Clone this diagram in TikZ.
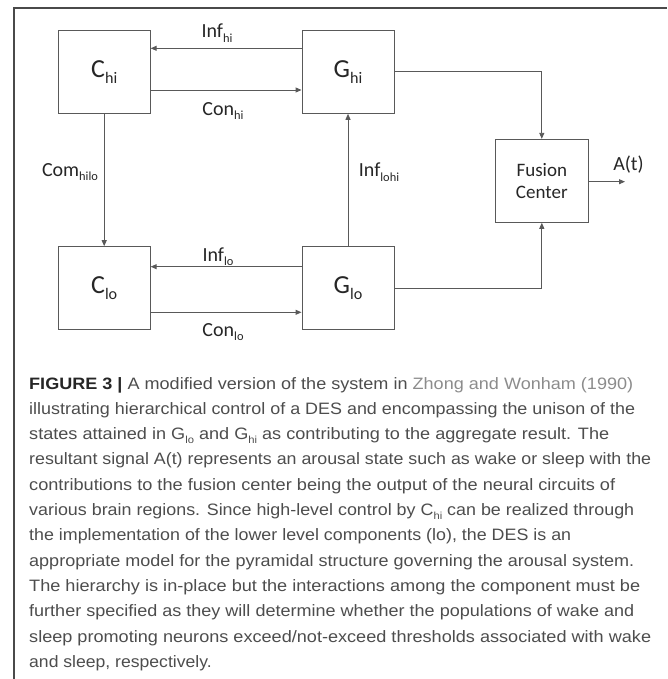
\documentclass[tikz,border=0pt]{standalone}
\usepackage{fontspec}
\setmainfont{Carlito}
\newfontfamily\capfont{Liberation Sans}
\usetikzlibrary{arrows.meta}
\definecolor{linec}{HTML}{595959}
\definecolor{txtc}{HTML}{262626}
\definecolor{capc}{HTML}{4D4D4D}
\definecolor{capb}{HTML}{262626}
\definecolor{citec}{HTML}{8C8C8C}
\definecolor{framec}{HTML}{4A4A4A}
\newcommand\sbs[1]{\raisebox{-0.22em}{\scalebox{0.62}{#1}}}
\newlength\cwd
\newcommand\fitline[2]{\settowidth\cwd{#2}\scalebox{\fpeval{(#1)/\cwd}}[1]{#2}}
\begin{document}
\begin{tikzpicture}[x=1pt,y=-1pt,
  blk/.style={draw=linec, line width=0.9pt, minimum width=92pt, minimum height=82.7pt, inner sep=0pt, font=\fontsize{26}{30}\selectfont, text=txtc},
  arr/.style={draw=linec, line width=0.9pt, -{Triangle[length=6pt,width=5pt]}},
  lbl/.style={font=\fontsize{20}{24}\selectfont, text=txtc, inner sep=0pt},
  capline/.style={anchor=base west, inner sep=0pt, font=\capfont\fontsize{16.5}{20}\selectfont, text=capc}
]
\useasboundingbox (0,0) rectangle (667,679);
\coordinate (fbl) at (14,679);
\coordinate (ftl) at (14,8);
\coordinate (ftr) at (667,8);
\draw[framec, line width=1.2pt] (fbl) -- (ftl) -- (ftr);

\node[blk] (Chi) at (104.2,72) {C\sbs{hi}};
\node[blk] (Ghi) at (348,72) {G\sbs{hi}};
\node[blk] (Clo) at (104.2,288) {C\sbs{lo}};
\node[blk] (Glo) at (348,288) {G\sbs{lo}};
\node[blk, font=\fontsize{19}{22}\selectfont, align=center, minimum width=92.5pt, minimum height=83pt] (FC) at (541.8,180.8) {Fusion\\Center};

\coordinate (yInfhi) at (0,48.3);
\coordinate (yConhi) at (0,90);
\coordinate (yGhiF) at (0,71);
\coordinate (yInflo) at (0,266.7);
\coordinate (yConlo) at (0,312.3);
\coordinate (yGloF) at (0,288.3);
\coordinate (Aend) at (625,181.7);

\draw[arr] (Ghi.west |- yInfhi) -- (Chi.east |- yInfhi);
\draw[arr] (Chi.east |- yConhi) -- (Ghi.west |- yConhi);
\draw[arr] (Chi.south) -- (Clo.north);
\draw[arr] (Glo.north) -- (Ghi.south);
\draw[arr] (Ghi.east |- yGhiF) -| (FC.north);
\draw[arr] (Glo.east |- yGloF) -| (FC.south);
\draw[arr] (Glo.west |- yInflo) -- (Clo.east |- yInflo);
\draw[arr] (Clo.east |- yConlo) -- (Glo.west |- yConlo);
\draw[arr] (FC.east |- Aend) -- (Aend);

\node[lbl] (lInfhi) at (217,33) {Inf\sbs{hi}};
\node[lbl] (lConhi) at (223,111.3) {Con\sbs{hi}};
\node[lbl] (lCom) at (70,172.3) {Com\sbs{hilo}};
\node[lbl] (lInflohi) at (379,172.3) {Inf\sbs{lohi}};
\node[lbl] (lInflo) at (218,256.7) {Inf\sbs{lo}};
\node[lbl] (lConlo) at (223,332.3) {Con\sbs{lo}};
\node[lbl] (lA) at (628.5,165) {A(t)};

\node[capline] (c1) at (29,389) {\fitline{604}{{\bfseries\color{capb}FIGURE 3 |} A modified version of the system in {\color{citec}Zhong and Wonham (1990)}}};
\node[capline] (c2) at (29,414.3) {\fitline{606}{illustrating hierarchical control of a DES and encompassing the unison of the}};
\node[capline] (c3) at (29,439.6) {\fitline{580}{states attained in G\sbs{lo} and G\sbs{hi} as contributing to the aggregate result. The}};
\node[capline] (c4) at (29,464.9) {\fitline{622}{resultant signal A(t) represents an arousal state such as wake or sleep with the}};
\node[capline] (c5) at (29,490.2) {\fitline{586}{contributions to the fusion center being the output of the neural circuits of}};
\node[capline] (c6) at (29,515.5) {\fitline{605}{various brain regions. Since high-level control by C\sbs{hi} can be realized through}};
\node[capline] (c7) at (29,540.8) {\fitline{542}{the implementation of the lower level components (lo), the DES is an}};
\node[capline] (c8) at (29,566.1) {\fitline{605}{appropriate model for the pyramidal structure governing the arousal system.}};
\node[capline] (c9) at (29,591.4) {\fitline{611}{The hierarchy is in-place but the interactions among the component must be}};
\node[capline] (c10) at (29,616.7) {\fitline{605}{further specified as they will determine whether the populations of wake and}};
\node[capline] (c11) at (29,642) {\fitline{622}{sleep promoting neurons exceed/not-exceed thresholds associated with wake}};
\node[capline] (c12) at (29,667.3) {\fitline{182.5}{and sleep, respectively.}};
\end{tikzpicture}
\end{document}
